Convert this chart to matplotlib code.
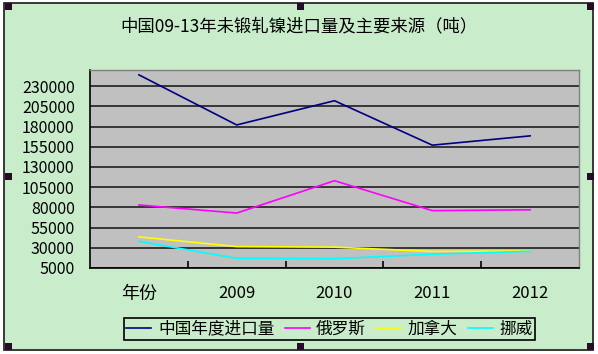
import matplotlib.pyplot as plt
import matplotlib.patches as mpatches

plt.rcParams['font.family'] = ['Noto Sans CJK SC', 'DejaVu Sans']

# dane
categories = ['年份', '2009', '2010', '2011', '2012']
china = [244000, 182000, 212000, 157000, 168500]
russia = [83000, 73000, 113000, 76000, 77000]
canada = [43500, 31500, 30800, 25500, 26000]
norway = [38000, 17000, 16500, 22000, 25700]
series_names = ['中国年度进口量', '俄罗斯', '加拿大', '挪威']
series_colors = ['#000080', '#FF00FF', '#FFFF00', '#00FFFF']
y_ticks = list(range(5000, 230001, 25000))

W, H = 598, 354
bg = '#C9EDCB'


def px_box(x0, y0, x1, y1):
    # prostokąt w pikselach -> ułamki figury
    return (x0 / W, 1 - y1 / H, (x1 - x0) / W, (y1 - y0) / H)


fig = plt.figure(figsize=(W / 100, H / 100), dpi=100, facecolor='white')

# tło wykresu (obszar Excela)
x, y, w, h = px_box(4, 3, 593, 350)
fig.patches.append(mpatches.Rectangle((x, y), w, h, transform=fig.transFigure,
                                      facecolor=bg, edgecolor='#2a2a2a', lw=1.3, zorder=-10))

ax = fig.add_axes([90 / W, 1 - 268 / H, (579 - 90) / W, (268 - 70) / H])
ax.set_facecolor('#C0C0C0')

all_series = [china, russia, canada, norway]
for vals, name, col in zip(all_series, series_names, series_colors):
    ax.plot(range(len(categories)), vals, color=col, lw=1.2, label=name, zorder=3)

ax.set_xlim(-0.5, len(categories) - 0.5)
ax.set_ylim(5000, 250000)
ax.set_yticks(y_ticks)
ax.set_yticklabels([str(v) for v in y_ticks], fontsize=11.5)
ax.set_xticks(range(len(categories)))
ax.set_xticklabels(categories, fontsize=12)
ax.get_xticklabels()[0].set_fontsize(13)
ax.set_xticks([i + 0.5 for i in range(len(categories) - 1)], minor=True)
ax.tick_params(axis='x', which='major', length=0, pad=12)
ax.tick_params(axis='x', which='minor', length=5, direction='in', width=1.2, color='black')
ax.tick_params(axis='y', length=0, pad=11)
ax.grid(axis='y', color='#111111', lw=1.1, zorder=1)
ax.set_axisbelow(True)

for s in ['left', 'bottom']:
    ax.spines[s].set_color('black')
    ax.spines[s].set_linewidth(1.2)
for s in ['top', 'right']:
    ax.spines[s].set_color('#808080')
    ax.spines[s].set_linewidth(1.0)

fig.text(0.5, 1 - 26 / H, '中国09-13年未锻轧镍进口量及主要来源（吨）',
         ha='center', va='center', fontsize=12.5)

leg = fig.legend(loc='center', bbox_to_anchor=((122 + 537) / 2 / W, 1 - 329 / H),
                 ncol=4, fontsize=12, frameon=True, fancybox=False,
                 handlelength=1.5, handletextpad=0.4, columnspacing=0.6,
                 borderpad=0.15, borderaxespad=0)
leg.get_frame().set_facecolor(bg)
leg.get_frame().set_edgecolor('black')
leg.get_frame().set_linewidth(1.2)
leg.get_frame().set_alpha(1)

# uchwyty zaznaczenia (małe kwadraty)
handles = [(5, 3), (297, 3), (587, 3), (5, 173), (587, 173), (5, 343), (297, 343), (587, 343)]
for hx, hy in handles:
    x, y, w, h = px_box(hx, hy, hx + 7, hy + 7)
    fig.patches.append(mpatches.Rectangle((x, y), w, h, transform=fig.transFigure,
                                          facecolor='#2a0a2a', edgecolor='none', zorder=5))

fig.savefig('out.png', dpi=100, facecolor='white')
